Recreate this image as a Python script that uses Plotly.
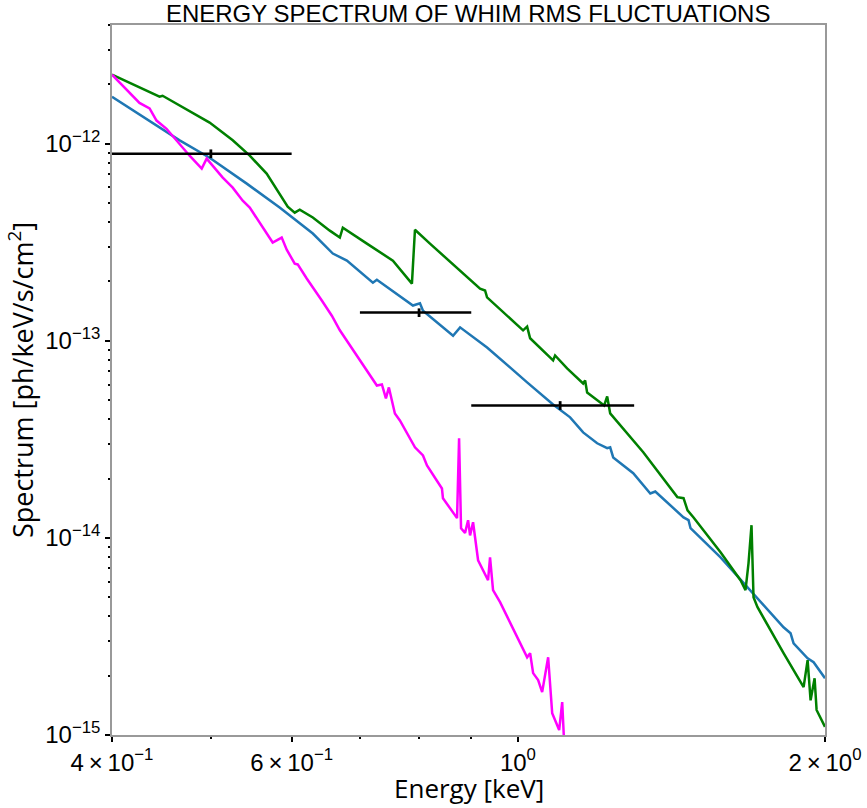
import plotly.graph_objects as go
import numpy as np

# ---------------- data ----------------
blue_E = [0.400, 0.4354, 0.4660, 0.4986, 0.5422, 0.5840, 0.6294, 0.6585, 0.6797, 0.7208,
          0.7273, 0.7890, 0.8016, 0.8071, 0.8638, 0.8776, 0.9327, 1.0210, 1.0826, 1.1250,
          1.1586, 1.1959, 1.2232, 1.2315, 1.2399, 1.2973, 1.3482, 1.3635, 1.4533, 1.4698,
          1.4764, 1.5799, 1.6905, 1.7686, 1.8214, 1.8505, 1.8631, 1.9230, 1.9492, 2.000]
blue_S = [1.73e-12, 1.31e-12, 1.04e-12, 8.49e-13, 6.27e-13, 4.74e-13, 3.50e-13, 2.77e-13, 2.55e-13, 1.97e-13,
          2.04e-13, 1.51e-13, 1.55e-13, 1.42e-13, 1.06e-13, 1.17e-13, 9.25e-14, 6.15e-14, 4.75e-14, 4.09e-14,
          3.43e-14, 3.02e-14, 2.85e-14, 2.88e-14, 2.56e-14, 2.13e-14, 1.68e-14, 1.72e-14, 1.27e-14, 1.23e-14,
          1.12e-14, 7.97e-15, 5.43e-15, 4.15e-15, 3.52e-15, 3.28e-15, 2.92e-15, 2.45e-15, 2.34e-15, 1.94e-15]

green_E = [0.400, 0.4453, 0.4484, 0.4766, 0.4986, 0.5253, 0.5459, 0.5671, 0.5840, 0.5947,
           0.6042, 0.6111, 0.6294, 0.6438, 0.6540, 0.6690, 0.6735, 0.7111, 0.7541, 0.7872,
           0.7926, 0.8199, 0.9181, 0.9285, 0.9327, 1.0117, 1.0210, 1.0279, 1.0826, 1.0875,
           1.1174, 1.1586, 1.1638, 1.1691, 1.2150, 1.2232, 1.2315, 1.3270, 1.3884, 1.4330,
           1.4533, 1.4665, 1.4865, 1.5799, 1.6527, 1.6715, 1.6828, 1.6943, 1.7020, 1.7174,
           1.8214, 1.9057, 1.9230, 1.9360, 1.9536, 1.9624, 2.000]
green_S = [2.24e-12, 1.73e-12, 1.75e-12, 1.47e-12, 1.28e-12, 1.04e-12, 8.69e-13, 7.05e-13, 5.58e-13, 4.79e-13,
           4.47e-13, 4.63e-13, 4.22e-13, 3.84e-13, 3.62e-13, 3.34e-13, 3.75e-13, 3.11e-13, 2.55e-13, 1.95e-13,
           3.66e-13, 3.11e-13, 1.84e-13, 1.80e-13, 1.66e-13, 1.13e-13, 1.18e-13, 1.03e-13, 7.95e-14, 8.42e-14,
           7.24e-14, 6.07e-14, 6.29e-14, 5.47e-14, 4.70e-14, 5.22e-14, 4.28e-14, 2.72e-14, 2.00e-14, 1.61e-14,
           1.59e-14, 1.38e-14, 1.27e-14, 8.45e-15, 6.10e-15, 5.43e-15, 7.43e-15, 1.16e-14, 5.00e-15, 4.45e-15,
           2.60e-15, 1.75e-15, 2.40e-15, 1.50e-15, 1.94e-15, 1.34e-15, 1.10e-15]

magenta_E = [0.400, 0.4256, 0.4354, 0.4423, 0.4524, 0.4766, 0.4898, 0.4953, 0.5136, 0.5253,
             0.5373, 0.5459, 0.5749, 0.5867, 0.5934, 0.6042, 0.6083, 0.6208, 0.6423, 0.6570,
             0.6690, 0.7273, 0.7356, 0.7423, 0.7473, 0.7575, 0.7661, 0.7926, 0.8071, 0.8144,
             0.8424, 0.8443, 0.8716, 0.8756, 0.8795, 0.8875, 0.8936, 0.8976, 0.9037, 0.9140,
             0.9348, 0.9390, 0.9454, 0.9605, 1.0210, 1.0279, 1.0349, 1.0467, 1.0562, 1.0706,
             1.0804, 1.0976, 1.1051, 1.1101]
magenta_S = [2.24e-12, 1.61e-12, 1.51e-12, 1.31e-12, 1.19e-12, 8.69e-13, 7.47e-13, 8.40e-13, 6.73e-13, 5.98e-13,
             5.14e-13, 4.74e-13, 3.15e-13, 3.34e-13, 2.90e-13, 2.46e-13, 2.44e-13, 2.07e-13, 1.60e-13, 1.34e-13,
             1.13e-13, 5.93e-14, 6.00e-14, 5.10e-14, 5.80e-14, 4.28e-14, 3.94e-14, 2.88e-14, 2.62e-14, 2.33e-14,
             1.78e-14, 1.59e-14, 1.26e-14, 3.20e-14, 1.12e-14, 1.06e-14, 1.23e-14, 1.03e-14, 1.20e-14, 7.70e-15,
             6.10e-15, 7.97e-15, 5.43e-15, 4.72e-15, 2.48e-15, 2.60e-15, 2.06e-15, 1.90e-15, 1.65e-15, 2.48e-15,
             1.29e-15, 1.06e-15, 1.47e-15, 9.0e-16]

obs_E = [0.5, 0.8, 1.1]
obs_Eerr = [0.1, 0.1, 0.2]
obs_S = [8.9e-13, 1.39e-13, 4.70e-14]
obs_Serr = [4.5e-14, 7.0e-15, 2.4e-15]

x_tickvals = [0.4, 0.6, 1.0, 2.0]
x_ticktext = ["4\u2009\u00d7\u200910<sup>\u22121</sup>", "6\u2009\u00d7\u200910<sup>\u22121</sup>",
              "10<sup>0</sup>", "2\u2009\u00d7\u200910<sup>0</sup>"]
x_minor = [0.5, 0.7, 0.8, 0.9]
y_tickvals = [1e-15, 1e-14, 1e-13, 1e-12]
y_ticktext = ["10<sup>\u221215</sup>", "10<sup>\u221214</sup>", "10<sup>\u221213</sup>", "10<sup>\u221212</sup>"]
y_minor = [m * 10.0 ** e for e in (-15, -14, -13, -12) for m in range(2, 10) if m * 10.0 ** e < 4.1e-12]

# ---------------- figure ----------------
fig = go.Figure()
fig.add_trace(go.Scatter(x=blue_E, y=blue_S, mode="lines",
                         line=dict(color="#1f77b4", width=2.5), showlegend=False))
fig.add_trace(go.Scatter(x=green_E, y=green_S, mode="lines",
                         line=dict(color="#008000", width=2.5), showlegend=False))
fig.add_trace(go.Scatter(x=magenta_E, y=magenta_S, mode="lines",
                         line=dict(color="#ff00ff", width=2.5), showlegend=False))
fig.add_trace(go.Scatter(x=obs_E, y=obs_S, mode="markers",
                         marker=dict(size=1, color="black"),
                         error_x=dict(type="data", array=obs_Eerr, color="black", thickness=2.5, width=0),
                         error_y=dict(type="data", array=obs_Serr, color="black", thickness=2.8, width=0),
                         showlegend=False))

tick_font = dict(family="Liberation Sans, Arial, sans-serif", size=24, color="black")
title_font = dict(family="Open Sans, sans-serif", size=26, color="black")
fig.update_layout(
    width=867, height=808,
    margin=dict(l=112, r=42, t=25, b=73),
    paper_bgcolor="white", plot_bgcolor="white",
    title=dict(text="ENERGY SPECTRUM OF WHIM RMS FLUCTUATIONS", x=0.54, xanchor="center",
               y=0.983, yanchor="middle",
               font=dict(family="Liberation Sans, Arial, sans-serif", size=24, color="black")),
    xaxis=dict(type="log", range=[np.log10(0.4), np.log10(2.0)], automargin=False,
               tickmode="array", tickvals=x_tickvals, ticktext=x_ticktext,
               ticks="outside", ticklen=5, tickwidth=1.5, tickcolor="black",
               minor=dict(tickmode="array", tickvals=x_minor, ticks="outside",
                          ticklen=2, tickwidth=1.5, tickcolor="black"),
               showgrid=False, zeroline=False,
               showline=True, linecolor="#999999", linewidth=1.5, mirror=True,
               tickfont=tick_font),
    yaxis=dict(type="log", range=[-15, np.log10(4.0e-12)], automargin=False,
               tickmode="array", tickvals=y_tickvals, ticktext=y_ticktext,
               ticks="outside", ticklen=5, tickwidth=1.5, tickcolor="black",
               minor=dict(tickmode="array", tickvals=y_minor, ticks="outside",
                          ticklen=2, tickwidth=1.5, tickcolor="black"),
               showgrid=False, zeroline=False,
               showline=True, linecolor="#999999", linewidth=1.5, mirror=True,
               tickfont=tick_font,
               title=dict(text="Spectrum [ph/keV/s/cm<sup>2</sup>]", standoff=4,
                          font=dict(family="Open Sans, sans-serif", size=27, color="black"))),
    annotations=[dict(text="Energy [keV]", xref="paper", yref="paper", x=0.5, y=-(788 - 735) / 710,
                      xanchor="center", yanchor="middle", showarrow=False, borderpad=0,
                      font=title_font)],
)

fig.write_html("out.html")
